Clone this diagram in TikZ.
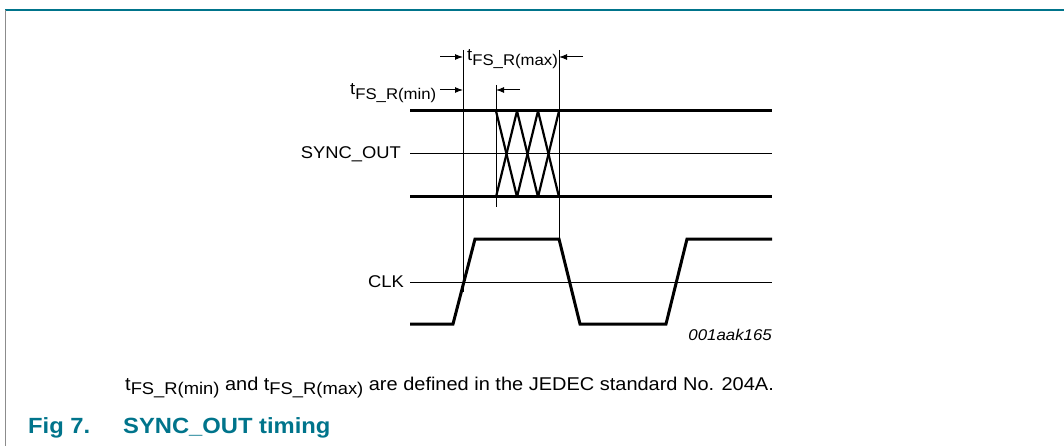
\documentclass[tikz,border=0pt]{standalone}
\usepackage{fontspec}
\setmainfont[FakeStretch=1.08]{Liberation Sans}
\usetikzlibrary{arrows.meta}
\definecolor{figteal}{RGB}{0,116,139}
\newcommand\tfsr[2][15.5]{t\raisebox{-0.45ex}{\fontsize{#1}{18}\selectfont FS\_R(#2)}}

\begin{document}
\begin{tikzpicture}[x=1pt, y=-1pt, font=\fontsize{17}{20}\selectfont,
    sig/.style={line width=3pt},
    xsig/.style={line width=2.2pt},
    ref/.style={line width=1pt},
    dim/.style={line width=1pt, -{Latex[length=8pt,width=6pt]}},
    lbl/.style={inner sep=0pt}]

    \useasboundingbox (0,0) rectangle (1064,446);

    % 1. Рамка
    \draw[figteal, line width=2pt] (5,10) -- (1064,10);
    \draw[black!45, line width=1pt] (5,10) -- (5,446);

    % 2. SYNC_OUT: уровни и опорная линия
    \draw[sig] (410,111) -- (772,111);
    \draw[sig] (410,197) -- (772,197);
    \draw[ref] (410,154) -- (772,154);

    % 3. Область переключения (крестики)
    \foreach \a/\b in {496/517, 517/538, 538/559} {
        \draw[xsig] (\a,111) -- (\b,197);
        \draw[xsig] (\b,111) -- (\a,197);
    }

    % 4. CLK
    \draw[sig] (410,324) -- (453,324) -- (475,239) -- (559,239)
               -- (580,324) -- (666,324) -- (687,239) -- (772,239);
    \draw[ref] (410,282) -- (772,282);

    % 5. Вертикальные выносные линии
    \draw[ref] (463,50) -- (463,292);
    \draw[ref] (496,85) -- (496,207);
    \draw[ref] (559,50) -- (559,239);

    % 6. Стрелки размеров
    \coordinate (maxL) at (463,57);
    \coordinate (maxR) at (559,57);
    \coordinate (minL) at (463,90);
    \coordinate (minR) at (496,90);
    \draw[dim] (440,57) -- (maxL);
    \draw[dim] (583,57) -- (maxR);
    \draw[dim] (440,90) -- (minL);
    \draw[dim] (520,90) -- (minR);

    % 7. Подписи
    \node[lbl, anchor=base west] (tmax) at (467,61) {\tfsr{max}};
    \node[lbl, anchor=base west] (tmin) at (350,95) {\tfsr{min}};
    \node[lbl, anchor=east] (sync) at (401,154) {SYNC\_OUT};
    \node[lbl, anchor=east] (clk) at (404,282) {CLK};
    \node[lbl, anchor=base east, font=\fontsize{15.6}{18}\selectfont\itshape]
        (code) at (772,340) {001aak165};

    % 8. Примечание и заголовок рисунка
    \node[lbl, anchor=base west, font=\fontsize{18.5}{21}\selectfont] (note) at (125,390)
        {\tfsr[17]{min} and \tfsr[17]{max} are defined in the JEDEC standard No. 204A.};
    \node[lbl, anchor=base west, figteal, font=\fontsize{22}{26}\selectfont\bfseries]
        (fignum) at (28,433) {Fig 7.};
    \node[lbl, anchor=base west, figteal, font=\fontsize{22}{26}\selectfont\bfseries]
        (figtitle) at (123,433) {SYNC\_OUT timing};

\end{tikzpicture}
\end{document}
